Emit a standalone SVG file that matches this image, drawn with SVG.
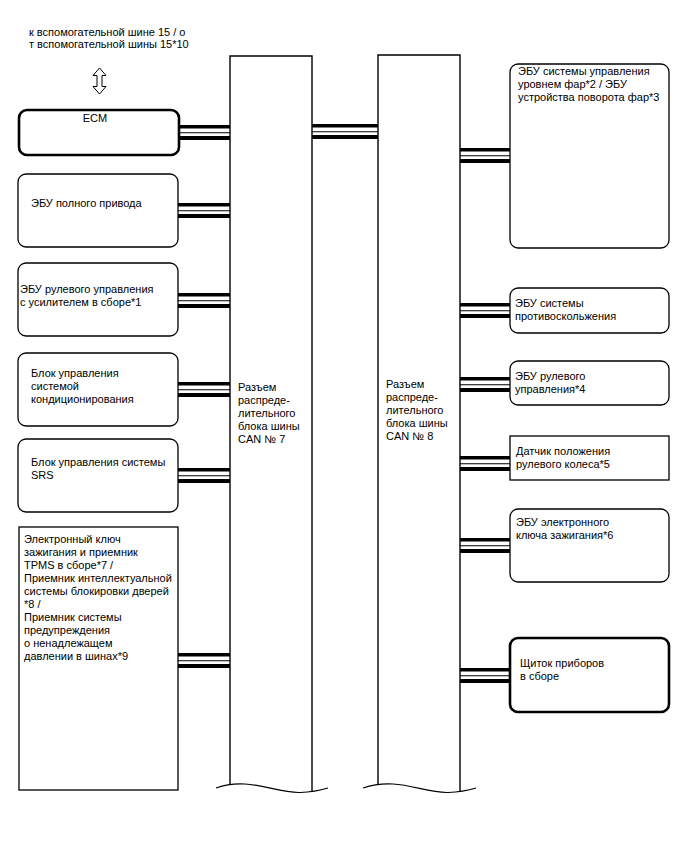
<svg xmlns="http://www.w3.org/2000/svg" width="688" height="852" viewBox="0 0 688 852">
<style>
text{font-family:"Liberation Sans",Arial,sans-serif;font-size:11px;fill:#000}
.box{fill:#fff;stroke:#000;stroke-width:1.3}
.bold{fill:#fff;stroke:#000;stroke-width:2.6}
.bus{fill:none;stroke:#000;stroke-width:1.4}
.wave{fill:none;stroke:#000;stroke-width:1.2}
.t1{stroke:#000;stroke-width:3.4}
.t2{stroke:#000;stroke-width:1.1}
.t3{stroke:#000;stroke-width:4}
</style>
<rect width="688" height="852" fill="#fff"/>

<g id="note">
<text x="29" y="36">к вспомогательной шине 15 / о</text>
<text x="29" y="48">т вспомогательной шины  15*10</text>
<path d="M99.5,68 L106,75.5 L102,75.5 L102,86.5 L106,86.5 L99.5,94 L93,86.5 L97,86.5 L97,75.5 L93,75.5 Z" fill="#fff" stroke="#000" stroke-width="1"/>
</g>

<g id="connectors">
<!-- ECM -->
<g transform="translate(0,125)"><line class="t1" x1="179" x2="230" y1="1.7" y2="1.7"/><line class="t2" x1="179" x2="230" y1="7.7" y2="7.7"/><line class="t3" x1="179" x2="230" y1="13" y2="13"/></g>
<g transform="translate(0,203)"><line class="t1" x1="178" x2="230" y1="1.7" y2="1.7"/><line class="t2" x1="178" x2="230" y1="7.7" y2="7.7"/><line class="t3" x1="178" x2="230" y1="13" y2="13"/></g>
<g transform="translate(0,293)"><line class="t1" x1="178" x2="230" y1="1.7" y2="1.7"/><line class="t2" x1="178" x2="230" y1="7.7" y2="7.7"/><line class="t3" x1="178" x2="230" y1="13" y2="13"/></g>
<g transform="translate(0,382)"><line class="t1" x1="178" x2="230" y1="1.7" y2="1.7"/><line class="t2" x1="178" x2="230" y1="7.7" y2="7.7"/><line class="t3" x1="178" x2="230" y1="13" y2="13"/></g>
<g transform="translate(0,468)"><line class="t1" x1="178" x2="230" y1="1.7" y2="1.7"/><line class="t2" x1="178" x2="230" y1="7.7" y2="7.7"/><line class="t3" x1="178" x2="230" y1="13" y2="13"/></g>
<g transform="translate(0,653)"><line class="t1" x1="178" x2="230" y1="1.7" y2="1.7"/><line class="t2" x1="178" x2="230" y1="7.7" y2="7.7"/><line class="t3" x1="178" x2="230" y1="13" y2="13"/></g>
<!-- bus 7 to bus 8 -->
<g transform="translate(0,124)"><line class="t1" x1="312" x2="378" y1="1.7" y2="1.7"/><line class="t2" x1="312" x2="378" y1="7.7" y2="7.7"/><line class="t3" x1="312" x2="378" y1="13" y2="13"/></g>
<!-- right side -->
<g transform="translate(0,148)"><line class="t1" x1="460" x2="510" y1="1.7" y2="1.7"/><line class="t2" x1="460" x2="510" y1="7.7" y2="7.7"/><line class="t3" x1="460" x2="510" y1="13" y2="13"/></g>
<g transform="translate(0,303)"><line class="t1" x1="460" x2="510" y1="1.7" y2="1.7"/><line class="t2" x1="460" x2="510" y1="7.7" y2="7.7"/><line class="t3" x1="460" x2="510" y1="13" y2="13"/></g>
<g transform="translate(0,377)"><line class="t1" x1="460" x2="510" y1="1.7" y2="1.7"/><line class="t2" x1="460" x2="510" y1="7.7" y2="7.7"/><line class="t3" x1="460" x2="510" y1="13" y2="13"/></g>
<g transform="translate(0,456)"><line class="t1" x1="460" x2="510" y1="1.7" y2="1.7"/><line class="t2" x1="460" x2="510" y1="7.7" y2="7.7"/><line class="t3" x1="460" x2="510" y1="13" y2="13"/></g>
<g transform="translate(0,538)"><line class="t1" x1="460" x2="510" y1="1.7" y2="1.7"/><line class="t2" x1="460" x2="510" y1="7.7" y2="7.7"/><line class="t3" x1="460" x2="510" y1="13" y2="13"/></g>
<g transform="translate(0,668)"><line class="t1" x1="460" x2="510" y1="1.7" y2="1.7"/><line class="t2" x1="460" x2="510" y1="7.7" y2="7.7"/><line class="t3" x1="460" x2="510" y1="13" y2="13"/></g>
</g>

<g id="bus7">
<path class="bus" d="M230,784 L230,56 L312,56 L312,792"/>
<path class="wave" d="M216,788 Q230,783 245,784 C265,785 282,793 300,792.5 Q315,792 328,788"/>
<text x="238" y="391">Разъем</text>
<text x="238" y="404">распреде-</text>
<text x="238" y="417">лительного</text>
<text x="238" y="430">блока шины</text>
<text x="238" y="443">CAN № 7</text>
</g>

<g id="bus8">
<path class="bus" d="M378,784 L378,55 L460,55 L460,792"/>
<path class="wave" d="M363,788 Q378,783 393,784 C413,785 430,793 448,792.5 Q463,792 476,788"/>
<text x="386" y="388">Разъем</text>
<text x="386" y="401">распреде-</text>
<text x="386" y="414">лительного</text>
<text x="386" y="427">блока шины</text>
<text x="386" y="440">CAN № 8</text>
</g>

<g id="ecm">
<rect class="bold" x="19" y="110" width="160" height="45" rx="8"/>
<text x="95" y="122" text-anchor="middle">ECM</text>
</g>

<g id="awd">
<rect class="box" x="18" y="174" width="160" height="73" rx="8"/>
<text x="31" y="207">ЭБУ полного привода</text>
</g>

<g id="eps">
<rect class="box" x="18" y="263" width="160" height="73" rx="8"/>
<text x="20" y="293">ЭБУ рулевого управления</text>
<text x="20" y="306">с усилителем в сборе*1</text>
</g>

<g id="ac">
<rect class="box" x="18" y="353" width="160" height="73" rx="8"/>
<text x="31" y="377">Блок управления</text>
<text x="31" y="390">системой</text>
<text x="31" y="403">кондиционирования</text>
</g>

<g id="srs">
<rect class="box" x="18" y="439" width="160" height="73" rx="8"/>
<text x="31" y="466">Блок управления системы</text>
<text x="31" y="479">SRS</text>
</g>

<g id="key">
<rect class="box" x="19" y="527" width="159" height="263"/>
<text x="24" y="543">Электронный ключ</text>
<text x="24" y="556">зажигания и приемник</text>
<text x="24" y="569">TPMS в сборе*7 /</text>
<text x="24" y="582">Приемник интеллектуальной</text>
<text x="24" y="595">системы блокировки дверей</text>
<text x="24" y="608">*8 /</text>
<text x="24" y="621">Приемник системы</text>
<text x="24" y="634">предупреждения</text>
<text x="24" y="647">о ненадлежащем</text>
<text x="24" y="660">давлении в шинах*9</text>
</g>

<g id="headlamp">
<rect class="box" x="510" y="64" width="159" height="184" rx="8"/>
<text x="518" y="75">ЭБУ системы управления</text>
<text x="518" y="88">уровнем фар*2 / ЭБУ</text>
<text x="518" y="101">устройства поворота фар*3</text>
</g>

<g id="skid">
<rect class="box" x="510" y="288" width="159" height="45" rx="8"/>
<text x="515" y="307">ЭБУ системы</text>
<text x="515" y="320">противоскольжения</text>
</g>

<g id="steer">
<rect class="box" x="510" y="361" width="159" height="44" rx="8"/>
<text x="515" y="380">ЭБУ рулевого</text>
<text x="515" y="393">управления*4</text>
</g>

<g id="sensor">
<rect class="box" x="510" y="436" width="159" height="44"/>
<text x="516" y="455">Датчик положения</text>
<text x="516" y="468">рулевого колеса*5</text>
</g>

<g id="smartkey">
<rect class="box" x="510" y="509" width="159" height="73" rx="8"/>
<text x="516" y="526">ЭБУ электронного</text>
<text x="516" y="539">ключа зажигания*6</text>
</g>

<g id="meter">
<rect class="bold" x="510" y="638" width="159" height="74" rx="8"/>
<text x="520" y="667">Щиток приборов</text>
<text x="520" y="680">в сборе</text>
</g>
</svg>
